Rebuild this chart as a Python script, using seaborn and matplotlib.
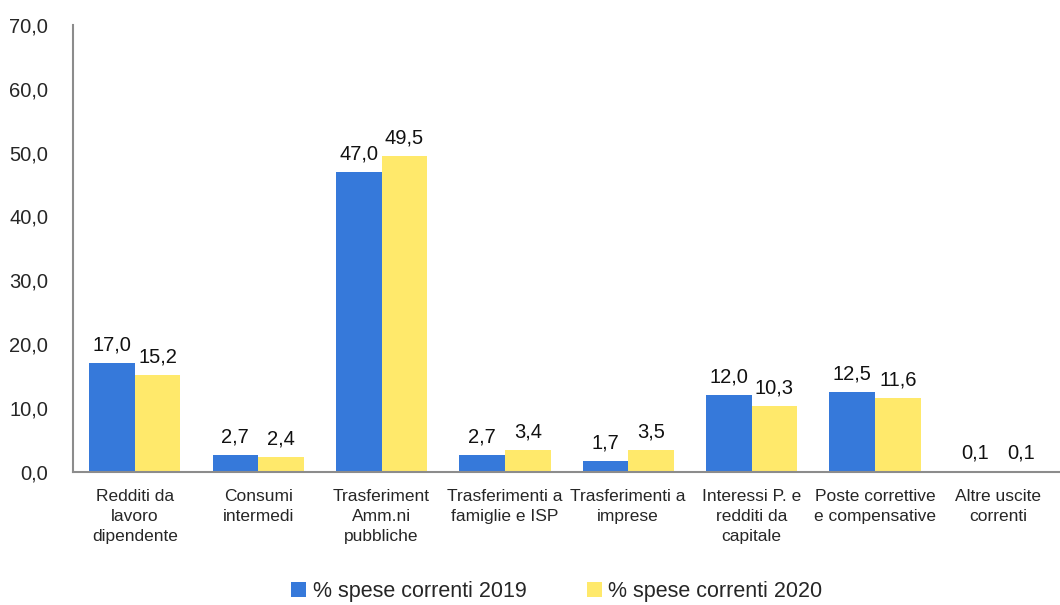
import matplotlib
matplotlib.use('Agg')
import matplotlib.pyplot as plt
import seaborn as sns
import pandas as pd

# ── data ──────────────────────────────────────────────────────────────────────
categories = ['Redditi da\nlavoro\ndipendente', 'Consumi\nintermedi',
              'Trasferiment\nAmm.ni\npubbliche', 'Trasferimenti a\nfamiglie e ISP',
              'Trasferimenti a\nimprese', 'Interessi P. e\nredditi da\ncapitale',
              'Poste correttive\ne compensative', 'Altre uscite\ncorrenti']
spese_2019 = [17.0, 2.7, 47.0, 2.7, 1.7, 12.0, 12.5, 0.1]
spese_2020 = [15.2, 2.4, 49.5, 3.4, 3.5, 10.3, 11.6, 0.1]
series = ['% spese correnti 2019', '% spese correnti 2020']
y_ticks = [0, 10, 20, 30, 40, 50, 60, 70]

df = pd.DataFrame({
    'cat': categories * 2,
    'val': spese_2019 + spese_2020,
    'serie': [series[0]] * len(categories) + [series[1]] * len(categories),
})

sns.set_style('white')
plt.rcParams['font.family'] = ['Liberation Sans', 'DejaVu Sans']

fig = plt.figure(figsize=(10.6, 6.05), dpi=100)
ax = fig.add_axes([0.069, 0.22, 0.931, 0.739])

sns.barplot(data=df, x='cat', y='val', hue='serie', palette=['#3679DA', '#FFE96B'],
            width=0.74, saturation=1, linewidth=0, ax=ax, legend=True)

for cont in ax.containers:
    ax.bar_label(cont, labels=[f'{v:.1f}'.replace('.', ',') for v in cont.datavalues],
                 padding=6, fontsize=14.5, color='#111111')

ax.set_ylim(0, 70)
ax.set_yticks(y_ticks)
ax.set_yticklabels([f'{t:.1f}'.replace('.', ',') for t in y_ticks], fontsize=14.5)
ax.set_xlim(-0.5, len(categories) - 0.5)
ax.tick_params(axis='x', length=0, pad=12)
ax.tick_params(axis='y', length=0, pad=18)
for lbl in ax.get_xticklabels():
    lbl.set_fontsize(12.5)
    lbl.set_linespacing(1.45)
ax.set_xlabel('')
ax.set_ylabel('')
for s in ['top', 'right']:
    ax.spines[s].set_visible(False)
for s in ['left', 'bottom']:
    ax.spines[s].set_color('#8c8c8c')
    ax.spines[s].set_linewidth(1.5)

ax.legend(loc='lower center', bbox_to_anchor=(0.49, -0.32), ncol=2, frameon=False,
          fontsize=15.5, handlelength=0.7, handleheight=0.7, handletextpad=0.3,
          columnspacing=2.8, borderpad=0.1)

fig.savefig('out.png', dpi=100)
